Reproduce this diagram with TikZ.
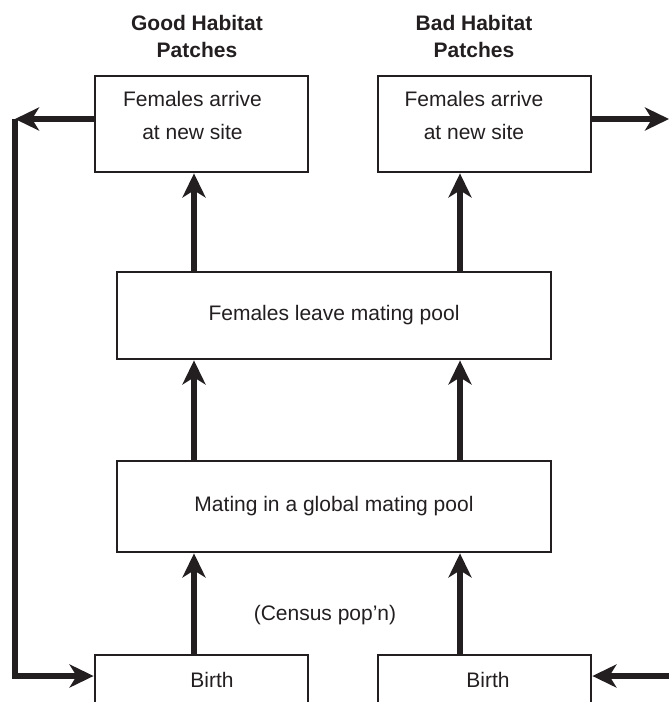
\documentclass[tikz,border=0pt]{standalone}
\usepackage{fontspec}
\setmainfont{Liberation Sans}
\usepackage{tikz}
\usetikzlibrary{calc, arrows.meta}
\definecolor{ink}{RGB}{35,31,32}

\begin{document}
\begin{tikzpicture}[x=1pt, y=-1pt,
	box/.style={draw=ink, line width=2.8pt, inner sep=0pt, text=ink, font=\fontsize{21}{33}\selectfont},
	txt/.style={text=ink, inner sep=0pt, align=center, font=\fontsize{21}{33}\selectfont},
	title/.style={text=ink, inner sep=0pt, align=center, font=\bfseries\fontsize{21}{27}\selectfont},
	arr/.style={draw=ink, line width=6pt, line join=miter, -{Stealth[length=24pt, width=23pt, inset=7pt]}}]
	\useasboundingbox (0,0) rectangle (669,702);
	\clip (0,0) rectangle (669,702);
	\node[title] (goodtitle) at (197,36) {Good Habitat\\Patches};
	\node[title] (badtitle) at (474,36) {Bad Habitat\\Patches};
	\node[box, minimum width=213, minimum height=96] (goodsite) at (201.5,124) {};
		\node[txt] (goodsitetxt) at (192.5,115) {Females arrive\\at new site};
	\node[box, minimum width=213, minimum height=96] (badsite) at (484.5,124) {};
		\node[txt] (badsitetxt) at (474,115) {Females arrive\\at new site};
	\node[box, minimum width=434, minimum height=87] (leave) at (334,315.5) {Females leave mating pool};
	\node[box, minimum width=434, minimum height=91] (mate) at (334,506.5) {Mating in a global mating pool};
	\node[txt] (census) at (325,615) {(Census pop'n)};
	\node[box, minimum width=213, minimum height=50] (goodbirth) at (201.5,680) {};
		\node[txt] (goodbirthtxt) at (212,680) {Birth};
	\node[box, minimum width=213, minimum height=50] (badbirth) at (484.5,680) {};
		\node[txt] (badbirthtxt) at (488,680) {Birth};
	\coordinate (colL) at (194,0);
	\coordinate (colR) at (460,0);
	\coordinate (loopT) at (15,119);
	\coordinate (loopB) at (15,676);
	\coordinate (outT) at (669,119);
	\coordinate (inB) at (669,676);
	\draw[arr] (colL |- goodbirth.north) -- (colL |- mate.south);
	\draw[arr] (colR |- badbirth.north) -- (colR |- mate.south);
	\draw[arr] (colL |- mate.north) -- (colL |- leave.south);
	\draw[arr] (colR |- mate.north) -- (colR |- leave.south);
	\draw[arr] (colL |- leave.north) -- (colL |- goodsite.south);
	\draw[arr] (colR |- leave.north) -- (colR |- badsite.south);
	\draw[arr] ([yshift=5pt]goodsite.west) -- (loopT);
	\draw[arr] (loopT) -- (loopB) -- (loopB -| goodbirth.west);
	\draw[arr] ([yshift=5pt]badsite.east) -- (outT);
	\draw[arr] (inB) -- (inB -| badbirth.east);
\end{tikzpicture}
\end{document}
